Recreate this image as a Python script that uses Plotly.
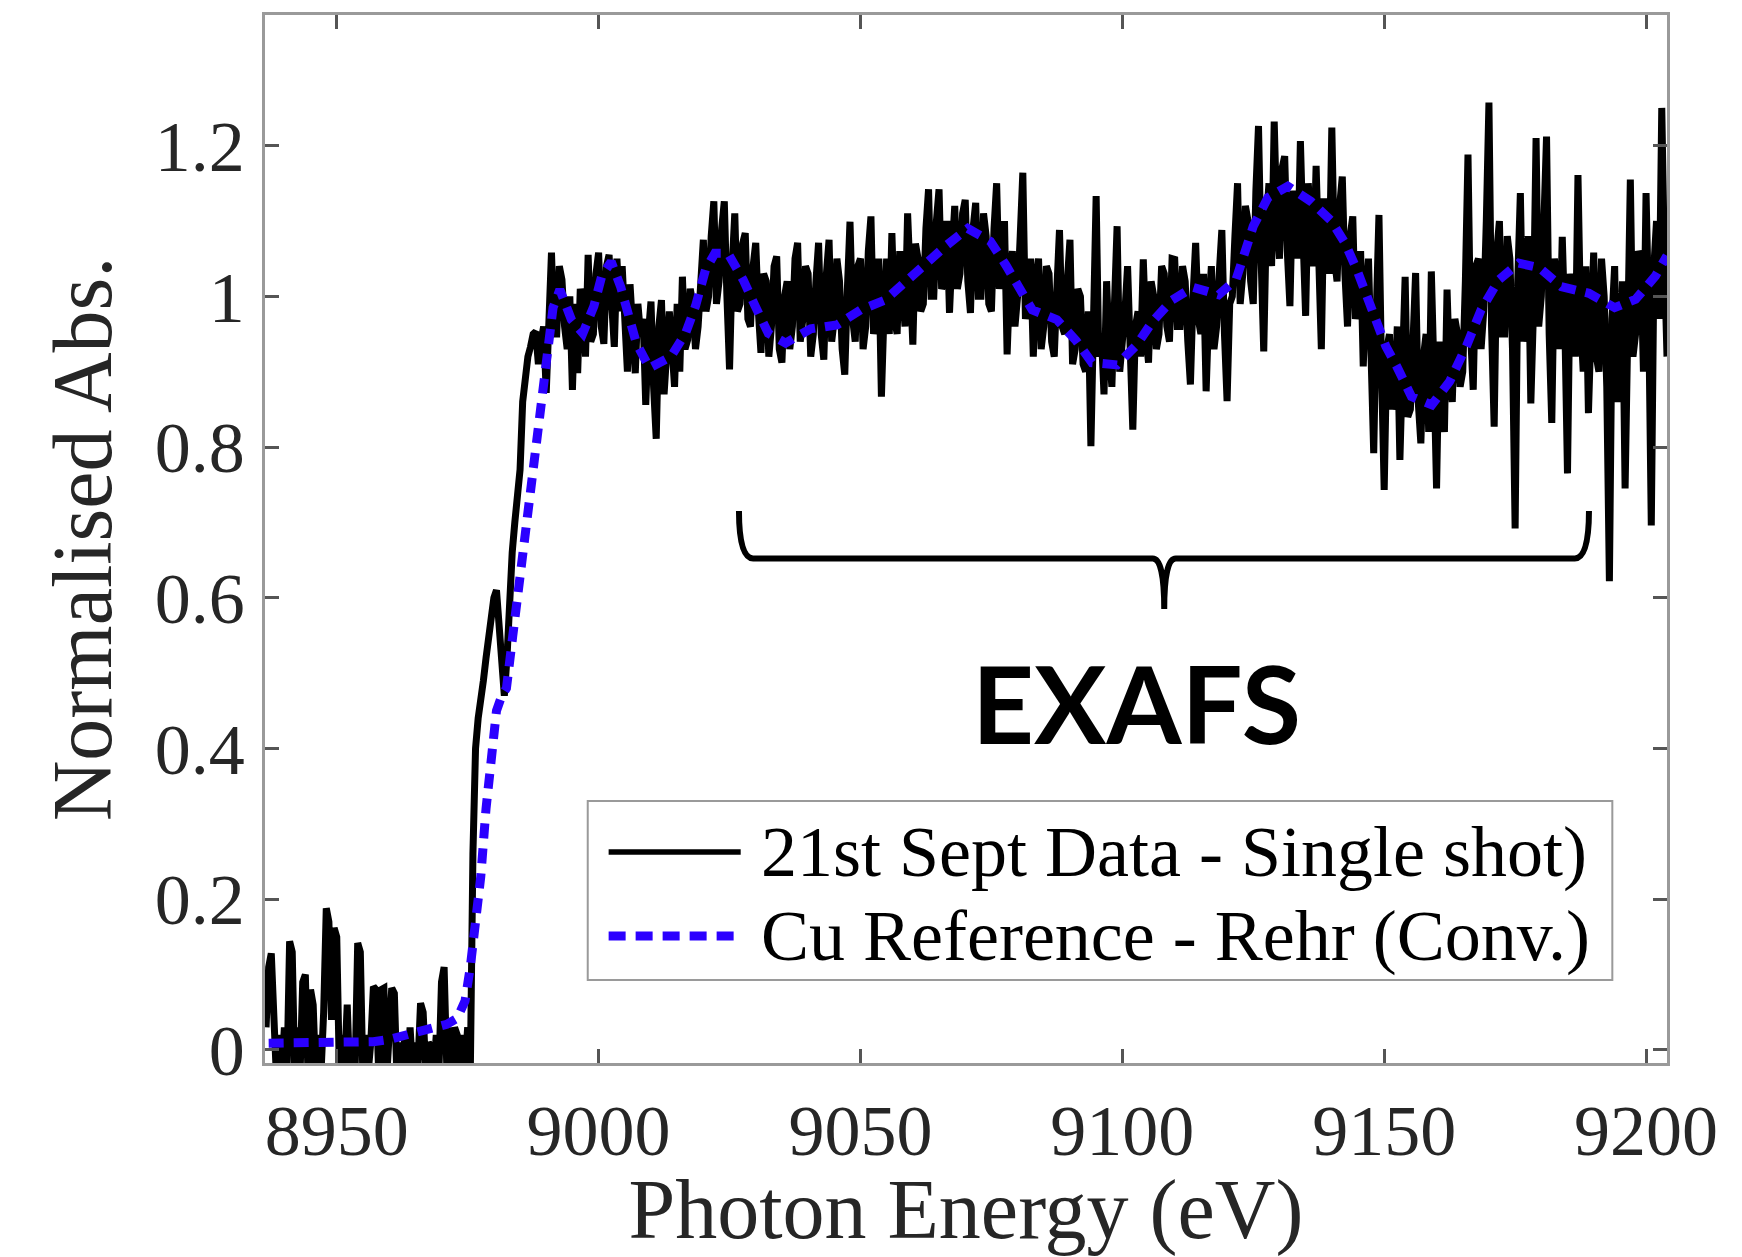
import numpy as np
import plotly.graph_objects as go

# ---------------- data ----------------
# Single-shot data, pre-edge (0.5 eV sampling, starting 8936.5 eV)
data_pre_start = 8936.5
data_pre_step = 0.5
data_pre_abs = [
    0.03, 0.11, 0.128, 0.05, -0.04, 0.02, -0.03, 0.03, -0.03, 0.144,   # 8936.5-8941.0
    0.13, -0.04, 0.03, -0.03, 0.09, 0.10, -0.03, 0.08, 0.06, -0.04,    # 8941.5-8946.0
    0.02, -0.03, 0.05, 0.188, 0.17, 0.04, 0.162, 0.15, -0.03, 0.02,    # 8946.5-8951.0
    -0.02, 0.06, -0.04, 0.01, -0.03, 0.142, 0.13, -0.04, 0.02, -0.03,  # 8951.5-8956.0
    0.01, 0.084, 0.08, -0.03, 0.08, 0.082, -0.04, 0.02, 0.082, 0.075,  # 8956.5-8961.0
    -0.04, 0.01, -0.03, 0.02, -0.03, 0.03, -0.03, 0.01, -0.02, 0.062,  # 8961.5-8966.0
    0.05, -0.03, 0.01, 0.004, -0.03, 0.02, -0.03, 0.09, 0.11, -0.02,   # 8966.5-8971.0
    0.03, -0.03, 0.03, 0.02, -0.03, 0.02, -0.02, 0.03, -0.03,          # 8971.5-8975.5
]
# Single-shot data, edge + EXAFS (0.5 eV sampling, starting 8976 eV)
data_post_start = 8976.0
data_post_step = 0.5
data_post_abs = [
    0.26, 0.40, 0.44, 0.46, 0.49, 0.52, 0.55, 0.58, 0.60, 0.61,          # 8976-8980.5
    0.55, 0.50, 0.47, 0.52, 0.60, 0.66, 0.70, 0.74, 0.77, 0.86,          # 8981-8985.5
    0.90, 0.92, 0.933, 0.95, 0.953, 0.91, 0.94, 0.96, 0.872, 0.96,       # 8986-8990.5
    1.058, 0.95, 0.95, 1.04, 1.022, 0.96, 0.93, 1.00, 0.876, 0.99,       # 8991-8995.5
    0.898, 1.01, 0.99, 0.92, 1.055, 0.94, 0.95, 1.03, 1.058, 0.96,       # 8996-9000.5
    0.937, 1.04, 1.055, 0.99, 0.933, 1.05, 0.98, 1.04, 0.95, 0.90,       # 9001-9005.5
    1.016, 0.94, 0.898, 0.99, 0.95, 0.97, 0.856, 0.95, 0.993, 0.88,      # 9006-9010.5
    0.811, 0.96, 0.995, 0.87, 0.92, 0.98, 0.933, 0.88, 0.99, 0.90,       # 9011-9015.5
    1.026, 0.93, 0.942, 1.01, 0.99, 0.93, 0.96, 1.04, 1.075, 0.98,       # 9016-9020.5
    1.00, 1.08, 1.126, 0.99, 1.02, 1.09, 1.126, 1.00, 0.903, 1.04,       # 9021-9025.5
    1.11, 0.98, 0.99, 1.07, 1.084, 0.97, 0.96, 1.04, 1.071, 0.98,        # 9026-9030.5
    0.925, 1.03, 1.02, 0.92, 0.96, 1.04, 1.053, 0.93, 0.912, 1.00,       # 9031-9035.5
    1.02, 0.93, 0.96, 1.05, 1.071, 0.94, 0.97, 1.04, 1.03, 0.92,         # 9036-9040.5
    0.95, 1.02, 1.071, 0.95, 0.916, 1.03, 1.075, 0.94, 0.97, 1.05,       # 9041-9045.5
    1.02, 0.93, 0.896, 1.01, 1.099, 0.97, 0.94, 1.04, 1.05, 0.93,        # 9046-9050.5
    0.96, 1.06, 1.106, 0.95, 0.98, 1.05, 0.867, 0.98, 1.05, 0.95,        # 9051-9055.5
    1.084, 0.97, 0.95, 1.06, 1.02, 0.96, 1.11, 1.00, 0.936, 1.07,        # 9056-9060.5
    1.05, 0.98, 0.99, 1.09, 1.142, 1.00, 1.00, 1.10, 1.142, 1.01,        # 9061-9065.5
    1.02, 1.10, 0.978, 1.06, 1.12, 1.01, 1.03, 1.11, 1.128, 1.02,        # 9066-9070.5
    0.978, 1.09, 1.124, 1.00, 1.00, 1.11, 1.08, 0.99, 0.98, 1.09,        # 9071-9075.5
    1.15, 1.01, 1.04, 1.10, 0.923, 1.02, 1.06, 0.96, 1.00, 1.08,         # 9076-9080.5
    1.164, 0.97, 0.99, 1.05, 0.92, 1.02, 1.05, 0.93, 0.96, 1.04,         # 9081-9085.5
    1.03, 0.94, 0.92, 1.01, 1.088, 0.96, 0.95, 1.02, 1.075, 0.91,        # 9086-9090.5
    0.93, 1.01, 1.00, 0.91, 0.90, 0.98, 0.801, 0.97, 1.133, 0.92,        # 9091-9095.5
    0.95, 0.87, 1.02, 0.93, 0.88, 0.99, 1.093, 0.90, 0.93, 0.98,         # 9096-9100.5
    1.04, 0.90, 0.823, 0.96, 0.98, 0.92, 1.049, 0.95, 0.912, 1.02,       # 9101-9105.5
    1.00, 0.93, 0.95, 1.04, 1.03, 0.96, 0.94, 1.05, 1.049, 0.96,         # 9106-9110.5
    0.96, 1.04, 1.02, 0.94, 0.883, 1.00, 1.071, 0.97, 0.95, 1.03,        # 9111-9115.5
    0.874, 0.98, 1.04, 0.93, 0.96, 1.03, 1.088, 0.95, 0.861, 0.99,       # 9116-9120.5
    1.00, 1.08, 1.15, 0.99, 1.03, 1.12, 1.10, 1.02, 0.99, 1.14,          # 9121-9125.5
    1.226, 1.05, 0.927, 1.10, 1.15, 1.04, 1.232, 1.10, 1.05, 1.17,       # 9126-9130.5
    1.186, 1.06, 0.987, 1.14, 1.12, 1.05, 1.206, 1.08, 0.974, 1.15,      # 9131-9135.5
    1.10, 1.04, 1.173, 1.06, 0.93, 1.13, 1.10, 1.03, 1.224, 1.05,        # 9136-9140.5
    1.02, 1.12, 1.159, 1.03, 0.96, 1.08, 1.106, 0.97, 0.99, 1.06,        # 9141-9145.5
    0.907, 1.00, 1.05, 0.92, 0.792, 0.98, 1.108, 0.90, 0.743, 0.93,      # 9146-9150.5
    0.95, 0.85, 0.87, 0.96, 0.783, 0.91, 1.026, 0.84, 0.85, 0.94,        # 9151-9155.5
    1.031, 0.86, 0.805, 0.92, 0.95, 0.82, 1.033, 0.90, 0.745, 0.94,      # 9156-9160.5
    0.90, 0.82, 1.009, 0.90, 0.86, 0.97, 0.95, 0.88, 0.90, 1.02,         # 9161-9165.5
    1.188, 0.95, 0.876, 1.04, 1.05, 0.93, 0.98, 1.10, 1.257, 0.96,       # 9166-9170.5
    0.827, 1.06, 1.10, 0.95, 0.95, 1.08, 1.05, 0.93, 0.692, 1.02,        # 9171-9175.5
    1.137, 0.94, 0.97, 1.08, 0.858, 0.98, 1.21, 0.96, 1.00, 1.10,        # 9176-9180.5
    1.212, 0.95, 0.832, 1.05, 1.02, 0.93, 1.079, 0.96, 0.765, 1.03,      # 9181-9185.5
    1.00, 0.92, 1.161, 0.97, 0.90, 1.04, 0.845, 0.96, 1.058, 0.92,       # 9186-9190.5
    0.90, 1.05, 1.00, 0.88, 0.622, 0.97, 1.04, 0.86, 0.90, 1.02,         # 9191-9195.5
    0.745, 0.95, 1.155, 0.92, 0.95, 1.06, 1.05, 0.90, 1.137, 0.98,       # 9196-9200.5
    0.696, 1.04, 1.10, 0.97, 1.25, 1.05, 0.92,                           # 9201-9204
]

# Cu reference (Rehr, convolved)
ref_energy = [
    8937, 8942, 8947, 8952, 8957, 8960, 8963, 8966, 8969, 8971, 8973, 8974.5,
    8975.5, 8976.5, 8977.5, 8978.5, 8979.5, 8980.5, 8981.5, 8982.4, 8983.6,
    8984.9, 8986.2, 8987.5, 8988.7, 8989.7, 8990.5, 8991.3, 8992.6, 8994.8,
    8997, 8999.1, 9000.6, 9002.4, 9004.2, 9005.7, 9007.2, 9009.7, 9013.8,
    9016.6, 9018.5, 9020.4, 9022.2, 9024.7, 9027.6, 9029.9, 9032.4, 9035.7,
    9040.5, 9045.5, 9050, 9054.7, 9058.3, 9062.3, 9066.3, 9070.5, 9074.8,
    9077.8, 9080.6, 9082.8, 9087.5, 9091.2, 9094.2, 9099, 9102.8, 9105.8,
    9109.5, 9113.5, 9118.4, 9121.7, 9125, 9127.8, 9131.6, 9136, 9139.9,
    9142.5, 9144.8, 9146.5, 9148.1, 9150.3, 9152.4, 9155.2, 9159.1, 9162.5,
    9165.7, 9168.5, 9171.9, 9175.7, 9179.6, 9183.8, 9189.1, 9194, 9198,
    9201.8, 9204,
]
ref_abs = [
    0.009, 0.009, 0.009, 0.009, 0.011, 0.014, 0.019, 0.023, 0.029, 0.034, 0.042, 0.065,
    0.11, 0.17, 0.23, 0.32, 0.40, 0.45, 0.47, 0.48, 0.549,
    0.62, 0.686, 0.766, 0.832, 0.885, 0.94, 0.985, 1.009, 0.969,
    0.951, 0.987, 1.027, 1.046, 1.013, 0.973, 0.938, 0.905, 0.92,
    0.951, 0.987, 1.035, 1.057, 1.057, 1.022, 0.987, 0.951, 0.938,
    0.957, 0.962, 0.982, 0.995, 1.018, 1.04, 1.067, 1.09, 1.073,
    1.041, 1.008, 0.982, 0.969, 0.941, 0.912, 0.909, 0.936, 0.967,
    0.995, 1.012, 1.002, 1.022, 1.093, 1.131, 1.146, 1.126, 1.10,
    1.071, 1.035, 1.004, 0.973, 0.934, 0.907, 0.867, 0.856, 0.887,
    0.934, 0.982, 1.022, 1.044, 1.038, 1.013, 1.004, 0.985, 0.996,
    1.027, 1.054,
]

x_ticks = [8950, 9000, 9050, 9100, 9150, 9200]
y_ticks = [0, 0.2, 0.4, 0.6, 0.8, 1.0, 1.2]
y_tick_text = ["0", "0.2", "0.4", "0.6", "0.8", "1", "1.2"]

series_names = ["21st Sept Data - Single shot)", "Cu Reference - Rehr (Conv.)"]

# ---------------- figure ----------------
data_energy = np.concatenate([
    data_pre_start + data_pre_step * np.arange(len(data_pre_abs)),
    data_post_start + data_post_step * np.arange(len(data_post_abs)),
])
data_abs = list(data_pre_abs) + list(data_post_abs)

SERIF = "Liberation Serif, Times New Roman, serif"
TXT = "#262626"
BLUE = "#2b00ff"

fig = go.Figure()
fig.add_trace(go.Scatter(
    x=data_energy, y=data_abs, mode="lines", name=series_names[0],
    line=dict(color="black", width=7), showlegend=False,
))
fig.add_trace(go.Scatter(
    x=ref_energy, y=ref_abs, mode="lines", name=series_names[1],
    line=dict(color=BLUE, width=9, dash="15px,10px"), showlegend=False,
))

axis_common = dict(
    showline=True, linecolor="#9a9a9a", linewidth=2.5, mirror="ticks",
    ticks="inside", ticklen=14, tickwidth=2.5, tickcolor="#555555",
    showgrid=False, zeroline=False,
    tickfont=dict(family=SERIF, size=72, color=TXT),
)

fig.update_xaxes(
    range=[8936.3, 9204.0], tickvals=x_ticks, ticklabelstandoff=3,
    title=dict(text="Photon Energy (eV)", font=dict(family=SERIF, size=84, color=TXT), standoff=73),
    **axis_common,
)
fig.update_yaxes(
    range=[-0.0173, 1.3733], tickvals=y_ticks, ticktext=y_tick_text, ticklabelstandoff=3,
    title=dict(text="Normalised Abs.", font=dict(family=SERIF, size=84, color=TXT), standoff=16),
    **axis_common,
)

# EXAFS brace and label
fig.add_shape(
    type="path", xref="x", yref="y",
    path=("M 9026.8,0.715 Q 9026.8,0.652 9029.5,0.652 L 9105.8,0.652 "
          "Q 9108,0.652 9108,0.585 Q 9108,0.652 9110.2,0.652 "
          "L 9186.4,0.652 Q 9189.1,0.652 9189.1,0.715"),
    line=dict(color="black", width=6),
)
fig.add_annotation(
    x=9102.8, y=0.462, xref="x", yref="y", text="<b>EXAFS</b>", showarrow=False,
    font=dict(family="Lato, Open Sans, sans-serif", size=108, color="black"),
    xanchor="center", yanchor="middle",
)

# Legend (box, line samples and labels)
leg_box = dict(x0=0.2302, x1=0.9610, y0=0.0792, y1=0.2501)
leg_rows_y = [0.2014, 0.1212]
leg_line_x = (0.2451, 0.3393)
leg_text_x = 0.3522
fig.add_shape(type="rect", xref="paper", yref="paper", **leg_box,
              line=dict(color="#9a9a9a", width=2), fillcolor="white", layer="above")
leg_styles = [dict(color="black", width=5.5), dict(color=BLUE, width=9, dash="17px,10px")]
for name, ry, st in zip(series_names, leg_rows_y, leg_styles):
    fig.add_shape(type="line", xref="paper", yref="paper",
                  x0=leg_line_x[0], x1=leg_line_x[1], y0=ry, y1=ry, line=st, layer="above")
    fig.add_annotation(x=leg_text_x, y=ry, xref="paper", yref="paper", text=name,
                       showarrow=False, xanchor="left", yanchor="middle",
                       font=dict(family=SERIF, size=72, color="black"))

fig.update_layout(
    width=1742, height=1257,
    margin=dict(l=265, r=75, t=15, b=194, autoexpand=False),
    paper_bgcolor="white", plot_bgcolor="white",
    showlegend=False,
)

fig.write_html("out.html", config={"displayModeBar": False})
